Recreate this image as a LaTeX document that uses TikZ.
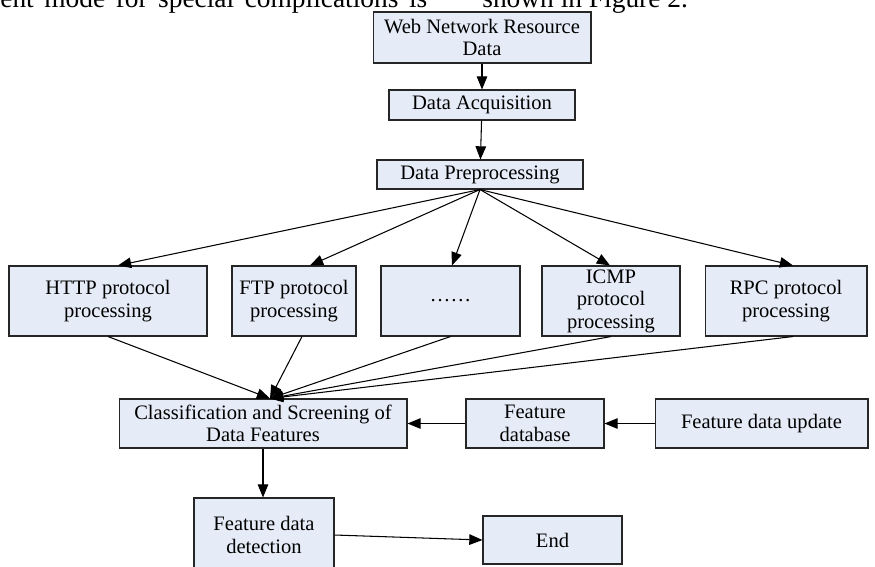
\documentclass[tikz,border=0pt]{standalone}
\usepackage{fontspec}
\setmainfont{Liberation Serif}
\usetikzlibrary{arrows.meta}
\definecolor{boxfill}{RGB}{230,236,247}
\tikzset{
  blk/.style={draw=black!85, line width=0.6pt, fill=boxfill, align=center,
    inner sep=0pt, font=\fontsize{11.7}{12.8}\selectfont},
  arr/.style={-{Triangle[length=7.5pt,width=6pt]}, line width=0.6pt},
  pagetxt/.style={anchor=base west, inner sep=0pt, font=\fontsize{15.6}{18}\selectfont}
}

\begin{document}
\begin{tikzpicture}[x=0.02cm,y=-0.02cm]
  \useasboundingbox (0,0) rectangle (875,566);

  % text of the page above the figure
  \node[pagetxt] (noteA) at (0,7) {\hbox to 8.54cm{ent mode for special complications is}};
  \node[pagetxt] (noteB) at (482,7) {shown in Figure 2.};

  % boxes
  \node[blk, minimum width=4.36cm, minimum height=1.02cm] (web) at (482,37.5) {Web Network Resource\\Data};
  \node[blk, minimum width=3.72cm, minimum height=0.6cm] (acq) at (482,105) {Data Acquisition};
  \node[blk, minimum width=4.12cm, minimum height=0.58cm] (pre) at (480,174.5) {Data Preprocessing};

  \node[blk, minimum width=3.96cm, minimum height=1.4cm] (http) at (108,301) {HTTP protocol\\processing};
  \node[blk, minimum width=2.48cm, minimum height=1.4cm] (ftp) at (294,301) {FTP protocol\\processing};
  \node[blk, minimum width=2.78cm, minimum height=1.4cm] (dots) at (450.5,301) {……};
  \node[blk, minimum width=2.76cm, minimum height=1.4cm] (icmp) at (611,301) {ICMP\\protocol\\processing};
  \node[blk, minimum width=3.24cm, minimum height=1.4cm] (rpc) at (786,301) {RPC protocol\\processing};

  \node[blk, minimum width=5.76cm, minimum height=0.98cm] (cls) at (263,423.5) {Classification and Screening of\\Data Features};
  \node[blk, minimum width=2.76cm, minimum height=0.98cm] (fdb) at (535,423.5) {Feature\\database};
  \node[blk, minimum width=4.26cm, minimum height=0.98cm] (upd) at (761.5,423.5) {Feature data update};

  \node[blk, minimum width=2.8cm, minimum height=1.48cm] (det) at (264,535) {Feature data\\detection};
  \node[blk, minimum width=2.78cm, minimum height=0.96cm] (fin) at (552.5,540) {End};

  % connectors
  \draw[arr] (web) -- (acq);
  \draw[arr] (acq) -- (pre);
  \foreach \dst/\dx in {http/0.2cm, ftp/0.32cm, dots/0.03cm, icmp/-0.02cm, rpc/0.14cm}
    \draw[arr] (pre.south) -- ([xshift=\dx]\dst.north);
  \foreach \src/\dx in {http/0cm, ftp/0.16cm, dots/0cm, icmp/0cm, rpc/0.14cm}
    \draw[arr] ([xshift=\dx]\src.south) -- ([xshift=0.14cm]cls.north);
  \draw[arr] (fdb) -- (cls);
  \draw[arr] (upd) -- (fdb);
  \draw[arr] (cls.south) -- (cls.south |- det.north);
  \draw[arr] (det.east) -- (fin.west);
\end{tikzpicture}
\end{document}
